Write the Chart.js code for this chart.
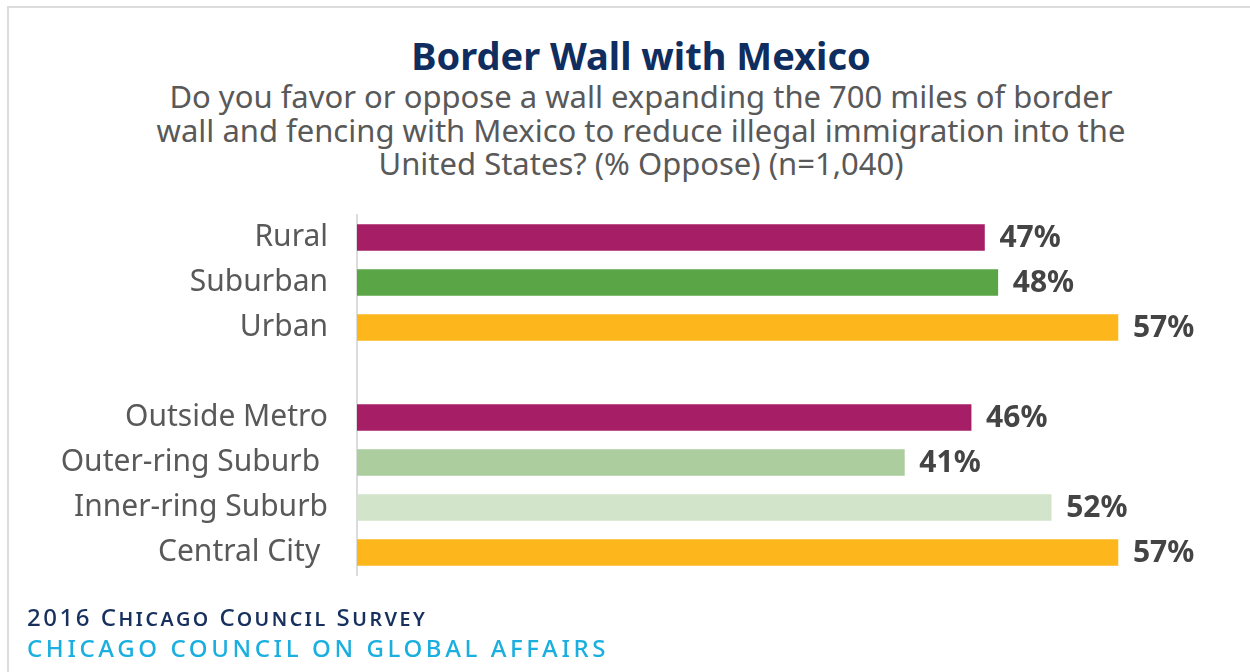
<!DOCTYPE html>
<html>
<head>
<meta charset="utf-8">
<script src="https://cdn.jsdelivr.net/npm/chart.js@4"></script>
<style>
  body { margin: 0; background: #fff; }
  #wrap { position: relative; width: 1250px; height: 672px; overflow: hidden; font-family: "Noto Sans", sans-serif; }
  #frame { position: absolute; left: 7px; top: 6px; right: -10px; bottom: -10px; border-left: 2px solid #dcdcdc; border-top: 2px solid #dcdcdc; }
  #title { position: absolute; left: 0; width: 1282px; top: 29px; text-align: center; font-size: 38px; font-weight: bold; color: #0f2d5e; }
  #subtitle { position: absolute; left: 0; width: 1282px; top: 80px; text-align: center; font-size: 31px; line-height: 33.5px; color: #595959; }
  #src1 { position: absolute; left: 27px; top: 600px; font-size: 24px; font-weight: 500; color: #17305e; font-variant: small-caps; letter-spacing: 2.5px; }
  #src2 { position: absolute; left: 27px; top: 631px; font-size: 24px; font-weight: 500; color: #1aafdf; letter-spacing: 3.6px; }
  #chartBox { position: absolute; left: 0; top: 0; width: 1250px; height: 672px; }
</style>
</head>
<body>
<div id="wrap">
  <div id="frame"></div>
  <div id="title">Border Wall with Mexico</div>
  <div id="subtitle">Do you favor or oppose a wall expanding the 700 miles of border<br>wall and fencing with Mexico to reduce illegal immigration into the<br>United States? (% Oppose) (n=1,040)</div>
  <div id="chartBox"><canvas id="wallChart"></canvas></div>
  <div id="src1">2016 Chicago Council Survey</div>
  <div id="src2">CHICAGO COUNCIL ON GLOBAL AFFAIRS</div>
</div>
<script>
// empty category keeps the gap between the two groups
const categories = ['Rural', 'Suburban', 'Urban', '', 'Outside Metro', 'Outer-ring Suburb ', 'Inner-ring Suburb', 'Central City '];
const opposePct = [47, 48, 57, null, 46, 41, 52, 57];
const barColors = ['#a61e65', '#5aa646', '#fdb71d', '#ffffff', '#a61e65', '#accd9e', '#d2e4c9', '#fdb71d'];

// percent labels to the right of each bar
const valueLabels = {
  id: 'valueLabels',
  afterDatasetsDraw(chart) {
    const ctx = chart.ctx;
    const meta = chart.getDatasetMeta(0);
    ctx.save();
    ctx.font = 'bold 30px "Noto Sans", sans-serif';
    ctx.fillStyle = '#444444';
    ctx.textAlign = 'left';
    ctx.textBaseline = 'middle';
    meta.data.forEach((bar, i) => {
      if (opposePct[i] == null) return;
      ctx.fillText(opposePct[i] + '%', bar.x + 15, bar.y + 1);
    });
    ctx.restore();
  }
};

new Chart(document.getElementById('wallChart'), {
  type: 'bar',
  data: {
    labels: categories,
    datasets: [{
      data: opposePct,
      backgroundColor: barColors,
      barThickness: 26
    }]
  },
  options: {
    indexAxis: 'y',
    responsive: true,
    maintainAspectRatio: false,
    animation: false,
    layout: { padding: { top: 215, bottom: 97, left: 0, right: 92 } },
    plugins: {
      legend: { display: false },
      tooltip: { enabled: false }
    },
    scales: {
      x: { display: false, min: 0, max: 60 },
      y: {
        afterFit(axis) { axis.width = 357; },
        grid: { display: false, drawTicks: false },
        border: { display: true, color: '#dcdcdc', width: 2 },
        ticks: {
          padding: 29,
          color: '#595959',
          font: { family: '"Noto Sans", sans-serif', size: 30 }
        }
      }
    }
  },
  plugins: [valueLabels]
});
</script>
</body>
</html>
